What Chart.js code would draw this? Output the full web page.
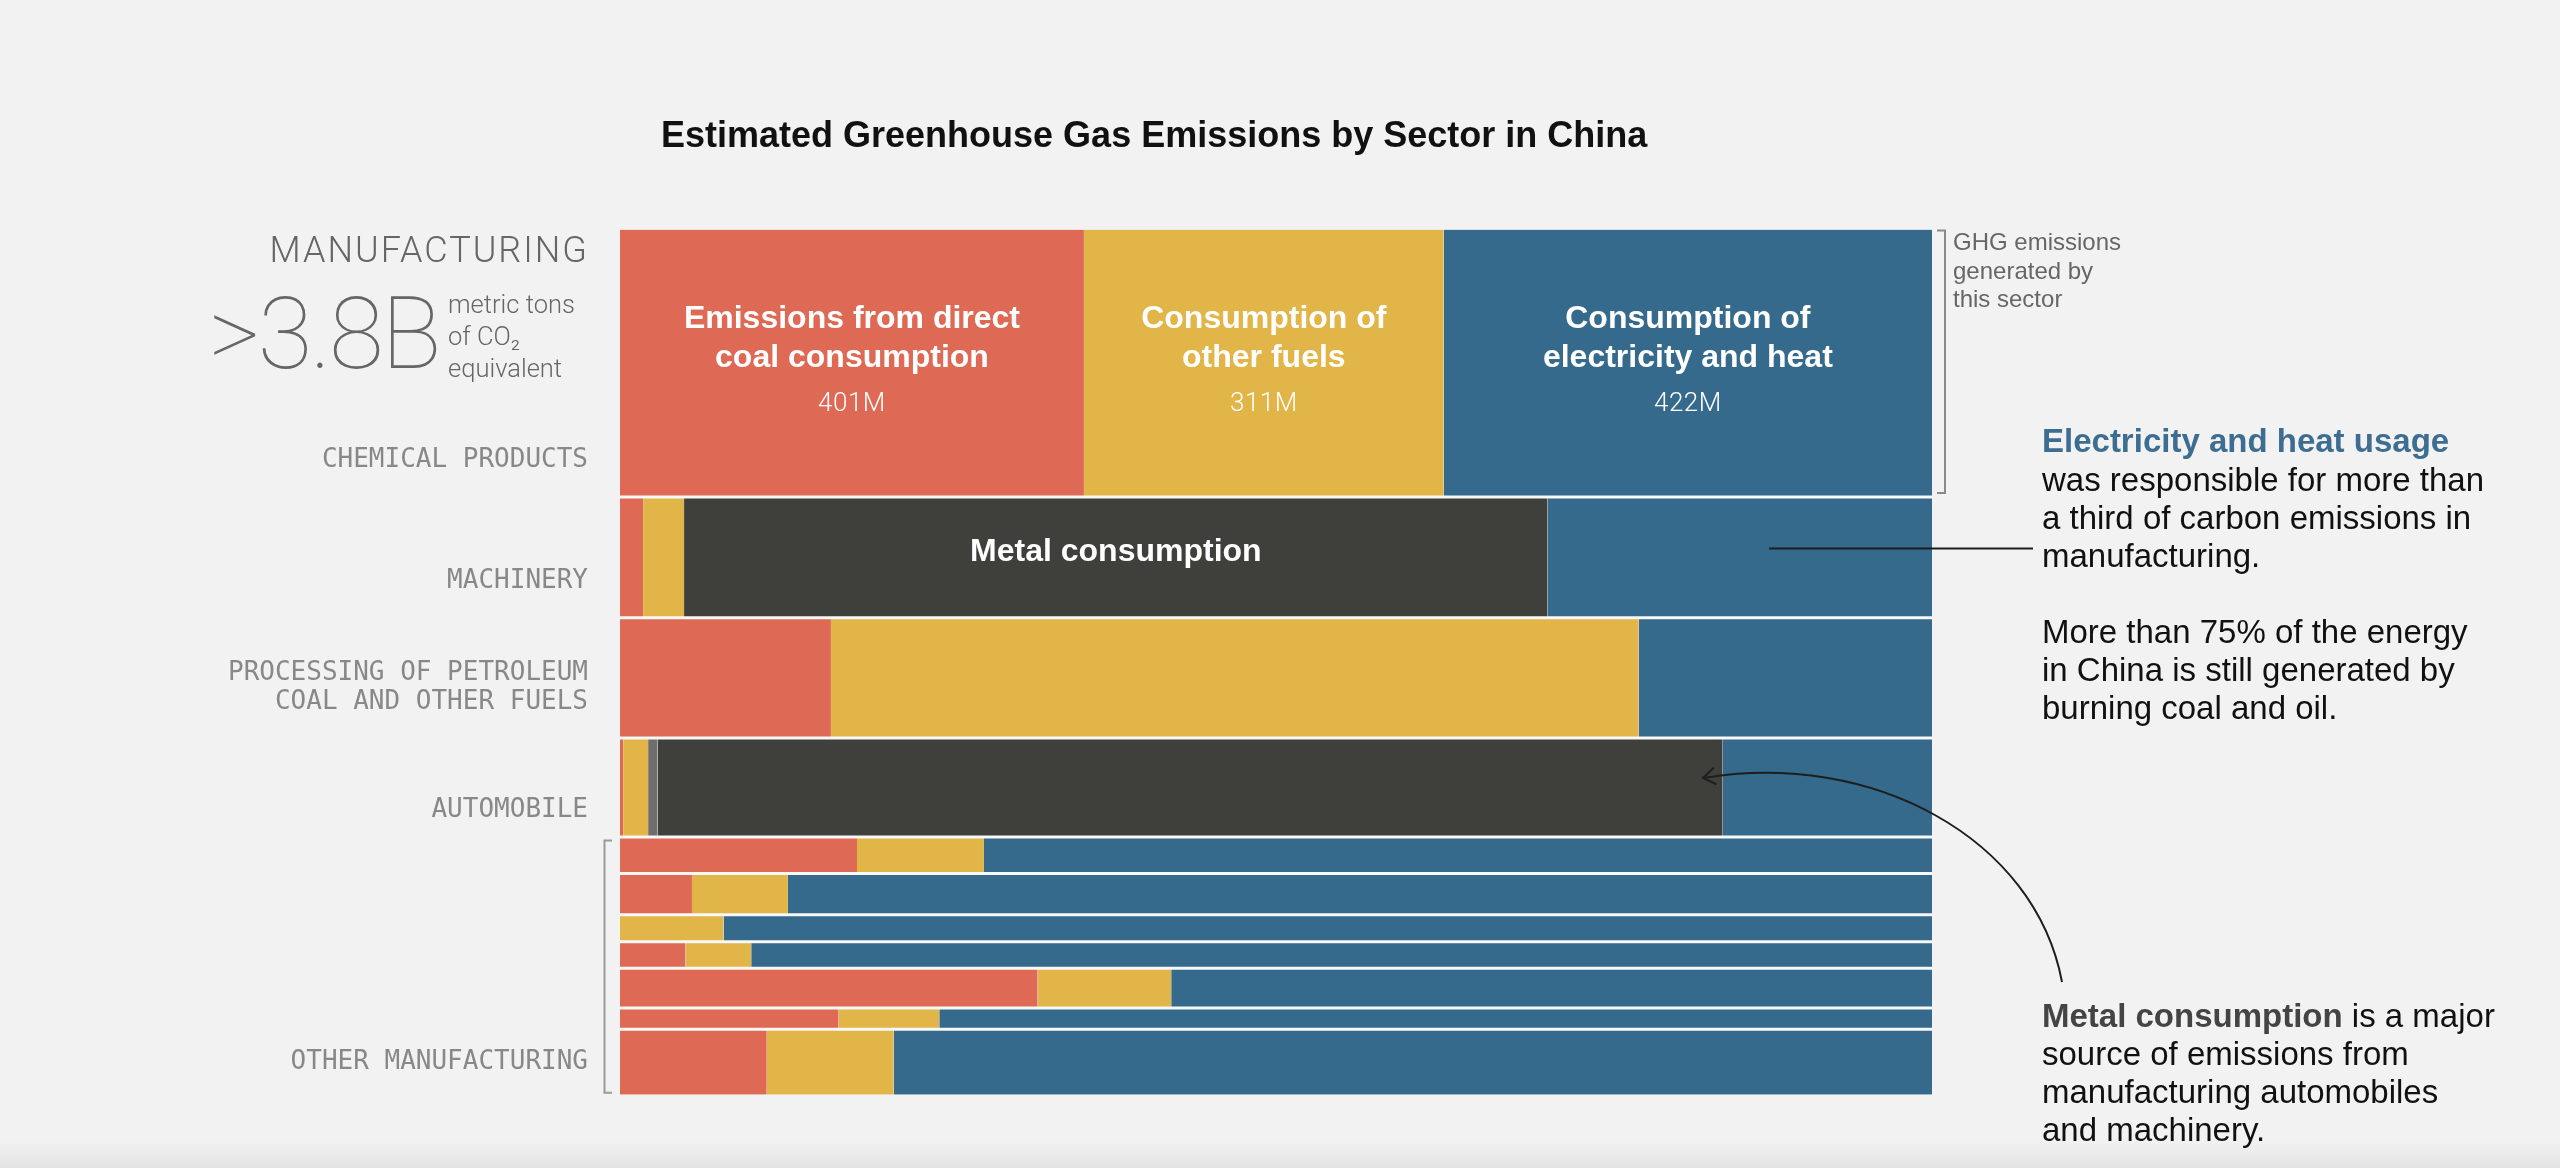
<!DOCTYPE html>
<html>
<head>
<meta charset="utf-8">
<script src="https://cdn.jsdelivr.net/npm/chart.js@4.4.0/dist/chart.umd.min.js"></script>
<style>
  html, body { margin: 0; padding: 0; overflow: hidden; }
  body { background: linear-gradient(to bottom, #f2f2f2 0px, #f2f2f2 1140px, #e3e3e3 1168px); width: 2560px; height: 1168px; }
  canvas { display: block; }
</style>
</head>
<body>
<canvas id="c" width="2560" height="1168"></canvas>
<script>
// ---------------- DATA (million metric tons CO2e) ----------------
const sectors = [
  'Chemical products', 'Machinery', 'Processing of petroleum, coal and other fuels', 'Automobile',
  'Other manufacturing 1', 'Other manufacturing 2', 'Other manufacturing 3', 'Other manufacturing 4',
  'Other manufacturing 5', 'Other manufacturing 6', 'Other manufacturing 7'
];
const coal        = [401,   9,  82,   1,  28,   9.6,   0,   5.6, 53.8, 15.0,  31.1];
const otherFuels  = [311,  16, 314,   8,  15,  12.8,   9,   5.6, 17.2,  6.9,  26.9];
const otherSmall  = [  0,   0,   0,   3,   0,   0,     0,   0,    0,    0,     0];
const metal       = [  0, 337,   0, 341,   0,   0,     0,   0,    0,    0,     0];
const electricity = [422, 150, 114,  67, 112, 152.6, 105, 100.8, 98.0, 68.1, 220.0];

const seriesNames = ['Emissions from direct coal consumption', 'Consumption of other fuels', 'Other', 'Metal consumption', 'Consumption of electricity and heat'];
const seriesValues = [coal, otherFuels, otherSmall, metal, electricity];
const seriesColors = ['#de6a56', '#e2b548', '#6e6e6c', '#3f3f3c', '#356a8d'];

// Row label groups: [first row, last row]
const rowLabelTexts = [['CHEMICAL PRODUCTS'], ['MACHINERY'], ['PROCESSING OF PETROLEUM', 'COAL AND OTHER FUELS'], ['AUTOMOBILE'], ['OTHER MANUFACTURING']];
const rowLabelRanges = [[0, 0], [1, 1], [2, 2], [3, 3], [4, 10]];

// ---------------- derived ----------------
const rowTotals = sectors.map((_, r) => seriesValues.reduce((s, arr) => s + arr[r], 0));
const rowStart = [];
let acc = 0;
rowTotals.forEach(t => { rowStart.push(acc); acc += t; });
const grandTotal = acc;

const datasets = [];
// row separators (drawn on top)
for (let r = 1; r < sectors.length; r++) {
  datasets.push({
    label: 'sep' + r,
    data: [{ x: 0, y: rowStart[r] }, { x: 100, y: rowStart[r] }],
    borderColor: '#f8f8f7', borderWidth: 3, pointRadius: 0, fill: false, order: 0
  });
}
// rectangles
sectors.forEach((name, r) => {
  let cum = 0;
  seriesValues.forEach((arr, s) => {
    const v = arr[r];
    if (v <= 0) return;
    const x0 = cum / rowTotals[r] * 100;
    cum += v;
    const x1 = cum / rowTotals[r] * 100;
    datasets.push({
      label: name + ' - ' + seriesNames[s],
      data: [{ x: x0, y: rowStart[r] }, { x: x1, y: rowStart[r] }],
      borderColor: 'rgba(0,0,0,0)', borderWidth: 0, pointRadius: 0,
      backgroundColor: seriesColors[s],
      fill: { value: rowStart[r] + rowTotals[r] },
      order: 1
    });
  });
});

const SANS = '"Liberation Sans", Arial, Helvetica, sans-serif';
const MONO = '"DejaVu Sans Mono", "Liberation Mono", monospace';

function segCenterX(xs, r, s) {
  let before = 0;
  for (let k = 0; k < s; k++) before += seriesValues[k][r];
  const a = before / rowTotals[r] * 100, b = (before + seriesValues[s][r]) / rowTotals[r] * 100;
  return (xs.getPixelForValue(a) + xs.getPixelForValue(b)) / 2;
}

function spacing(ctx, v) { if ('letterSpacing' in ctx) ctx.letterSpacing = v; }

const decor = {
  id: 'decor',
  afterDraw(chart) {
    const ctx = chart.ctx, xs = chart.scales.x, ys = chart.scales.y;
    const left = chart.chartArea.left, right = chart.chartArea.right;
    ctx.save();

    // Title
    ctx.fillStyle = '#111';
    ctx.font = 'bold 36px ' + SANS;
    ctx.textAlign = 'left'; ctx.textBaseline = 'alphabetic';
    ctx.fillText('Estimated Greenhouse Gas Emissions by Sector in China', 661, 147);

    // Left headline
    ctx.fillStyle = '#666';
    ctx.font = '300 36px Roboto, ' + SANS;
    ctx.textAlign = 'right';
    spacing(ctx, '2px');
    ctx.fillText('MANUFACTURING', 589, 262);
    spacing(ctx, '-2.5px');
    ctx.font = '100 100px Roboto, ' + SANS;
    ctx.fillText('>3.8B', 439, 368);
    spacing(ctx, '0px');
    ctx.textAlign = 'left';
    ctx.font = '300 25.5px Roboto, ' + SANS;
    ctx.fillText('metric tons', 448, 313);
    ctx.fillText('of CO\u2082', 448, 345);
    ctx.fillText('equivalent', 448, 377);

    // Row labels (monospace)
    const offs = [30, 30, 29, 20, 26];
    ctx.font = '26px ' + MONO;
    ctx.fillStyle = '#888';
    ctx.textAlign = 'right';
    rowLabelTexts.forEach((lines, i) => {
      const lastRow = rowLabelRanges[i][1];
      const yb = ys.getPixelForValue(rowStart[lastRow] + rowTotals[lastRow]) - offs[i];
      for (let k = 0; k < lines.length; k++) {
        ctx.fillText(lines[k], left - 32, yb - (lines.length - 1 - k) * 28.5);
      }
    });

    // bracket for other manufacturing
    ctx.strokeStyle = '#9a9a9a'; ctx.lineWidth = 2;
    const gTop = ys.getPixelForValue(rowStart[4]) + 3.5;
    const gBot = ys.getPixelForValue(grandTotal) - 2;
    ctx.beginPath();
    ctx.moveTo(left - 8, gTop); ctx.lineTo(left - 15.5, gTop); ctx.lineTo(left - 15.5, gBot); ctx.lineTo(left - 8, gBot);
    ctx.stroke();

    // bracket right of first row
    const r1Top = ys.getPixelForValue(0) + 1;
    const r1Bot = ys.getPixelForValue(rowTotals[0]) - 4;
    ctx.strokeStyle = '#8a8a8a';
    ctx.beginPath();
    ctx.moveTo(right + 5, r1Top); ctx.lineTo(right + 13, r1Top); ctx.lineTo(right + 13, r1Bot); ctx.lineTo(right + 5, r1Bot);
    ctx.stroke();
    ctx.fillStyle = '#666';
    ctx.font = '24px ' + SANS;
    ctx.textAlign = 'left';
    ctx.fillText('GHG emissions', 1953, 250);
    ctx.fillText('generated by', 1953, 279);
    ctx.fillText('this sector', 1953, 307);

    // segment labels in first row
    const r1c = (ys.getPixelForValue(0) + ys.getPixelForValue(rowTotals[0])) / 2;
    const segLabels = [[0, ['Emissions from direct', 'coal consumption']], [1, ['Consumption of', 'other fuels']], [4, ['Consumption of', 'electricity and heat']]];
    ctx.fillStyle = '#fff';
    ctx.textAlign = 'center'; ctx.textBaseline = 'middle';
    segLabels.forEach(([s, lines]) => {
      const cx = segCenterX(xs, 0, s);
      ctx.font = 'bold 32px ' + SANS;
      ctx.fillText(lines[0], cx, r1c - 44);
      ctx.fillText(lines[1], cx, r1c - 5);
      ctx.font = '300 26px Roboto, ' + SANS;
      spacing(ctx, '0.5px');
      ctx.fillText(seriesValues[s][0] + 'M', cx, r1c + 41);
      spacing(ctx, '0px');
    });
    // metal label in machinery row
    const r2c = (ys.getPixelForValue(rowStart[1]) + ys.getPixelForValue(rowStart[2])) / 2;
    ctx.font = 'bold 32px ' + SANS;
    ctx.fillText('Metal consumption', segCenterX(xs, 1, 3), r2c - 5);

    // right annotation 1
    ctx.textAlign = 'left'; ctx.textBaseline = 'alphabetic';
    ctx.font = 'bold 33px ' + SANS;
    ctx.fillStyle = '#3d6e92';
    ctx.fillText('Electricity and heat usage', 2042, 452);
    ctx.font = '33px ' + SANS;
    ctx.fillStyle = '#111';
    ['was responsible for more than', 'a third of carbon emissions in', 'manufacturing.'].forEach((t, i) => ctx.fillText(t, 2042, 490.5 + i * 38));
    ['More than 75% of the energy', 'in China is still generated by', 'burning coal and oil.'].forEach((t, i) => ctx.fillText(t, 2042, 642.5 + i * 38));

    // pointer line
    ctx.strokeStyle = '#1e1e1e'; ctx.lineWidth = 2;
    ctx.beginPath(); ctx.moveTo(1769, 548.5); ctx.lineTo(2033, 548.5); ctx.stroke();

    // right annotation 2
    ctx.font = 'bold 33px ' + SANS;
    ctx.fillStyle = '#444';
    ctx.fillText('Metal consumption', 2042, 1027);
    const w = ctx.measureText('Metal consumption').width;
    ctx.font = '33px ' + SANS;
    ctx.fillStyle = '#111';
    ctx.fillText(' is a major', 2042 + w, 1027);
    ['source of emissions from', 'manufacturing automobiles', 'and machinery.'].forEach((t, i) => ctx.fillText(t, 2042, 1065 + i * 38));

    // curved arrow
    ctx.strokeStyle = '#1e1e1e'; ctx.lineWidth = 2;
    ctx.beginPath();
    ctx.moveTo(2062, 982);
    ctx.bezierCurveTo(2035, 838, 1872, 750, 1703, 778);
    ctx.stroke();
    const ang = Math.atan2(778 - 750, 1703 - 1872);
    const L = 15, sp = 0.6;
    ctx.beginPath();
    ctx.moveTo(1703 - L * Math.cos(ang - sp), 778 - L * Math.sin(ang - sp));
    ctx.lineTo(1703, 778);
    ctx.lineTo(1703 - L * Math.cos(ang + sp), 778 - L * Math.sin(ang + sp));
    ctx.stroke();

    ctx.restore();
  }
};

new Chart(document.getElementById('c'), {
  type: 'line',
  data: { datasets },
  options: {
    responsive: false,
    devicePixelRatio: 1,
    animation: false,
    layout: { padding: { left: 620, right: 628, top: 229.5, bottom: 73.2 } },
    scales: {
      x: { type: 'linear', min: 0, max: 100, display: false },
      y: { type: 'linear', min: 0, max: grandTotal, reverse: true, display: false }
    },
    elements: { line: { tension: 0 } },
    plugins: { legend: { display: false }, tooltip: { enabled: false } }
  },
  plugins: [decor]
});
</script>
</body>
</html>
